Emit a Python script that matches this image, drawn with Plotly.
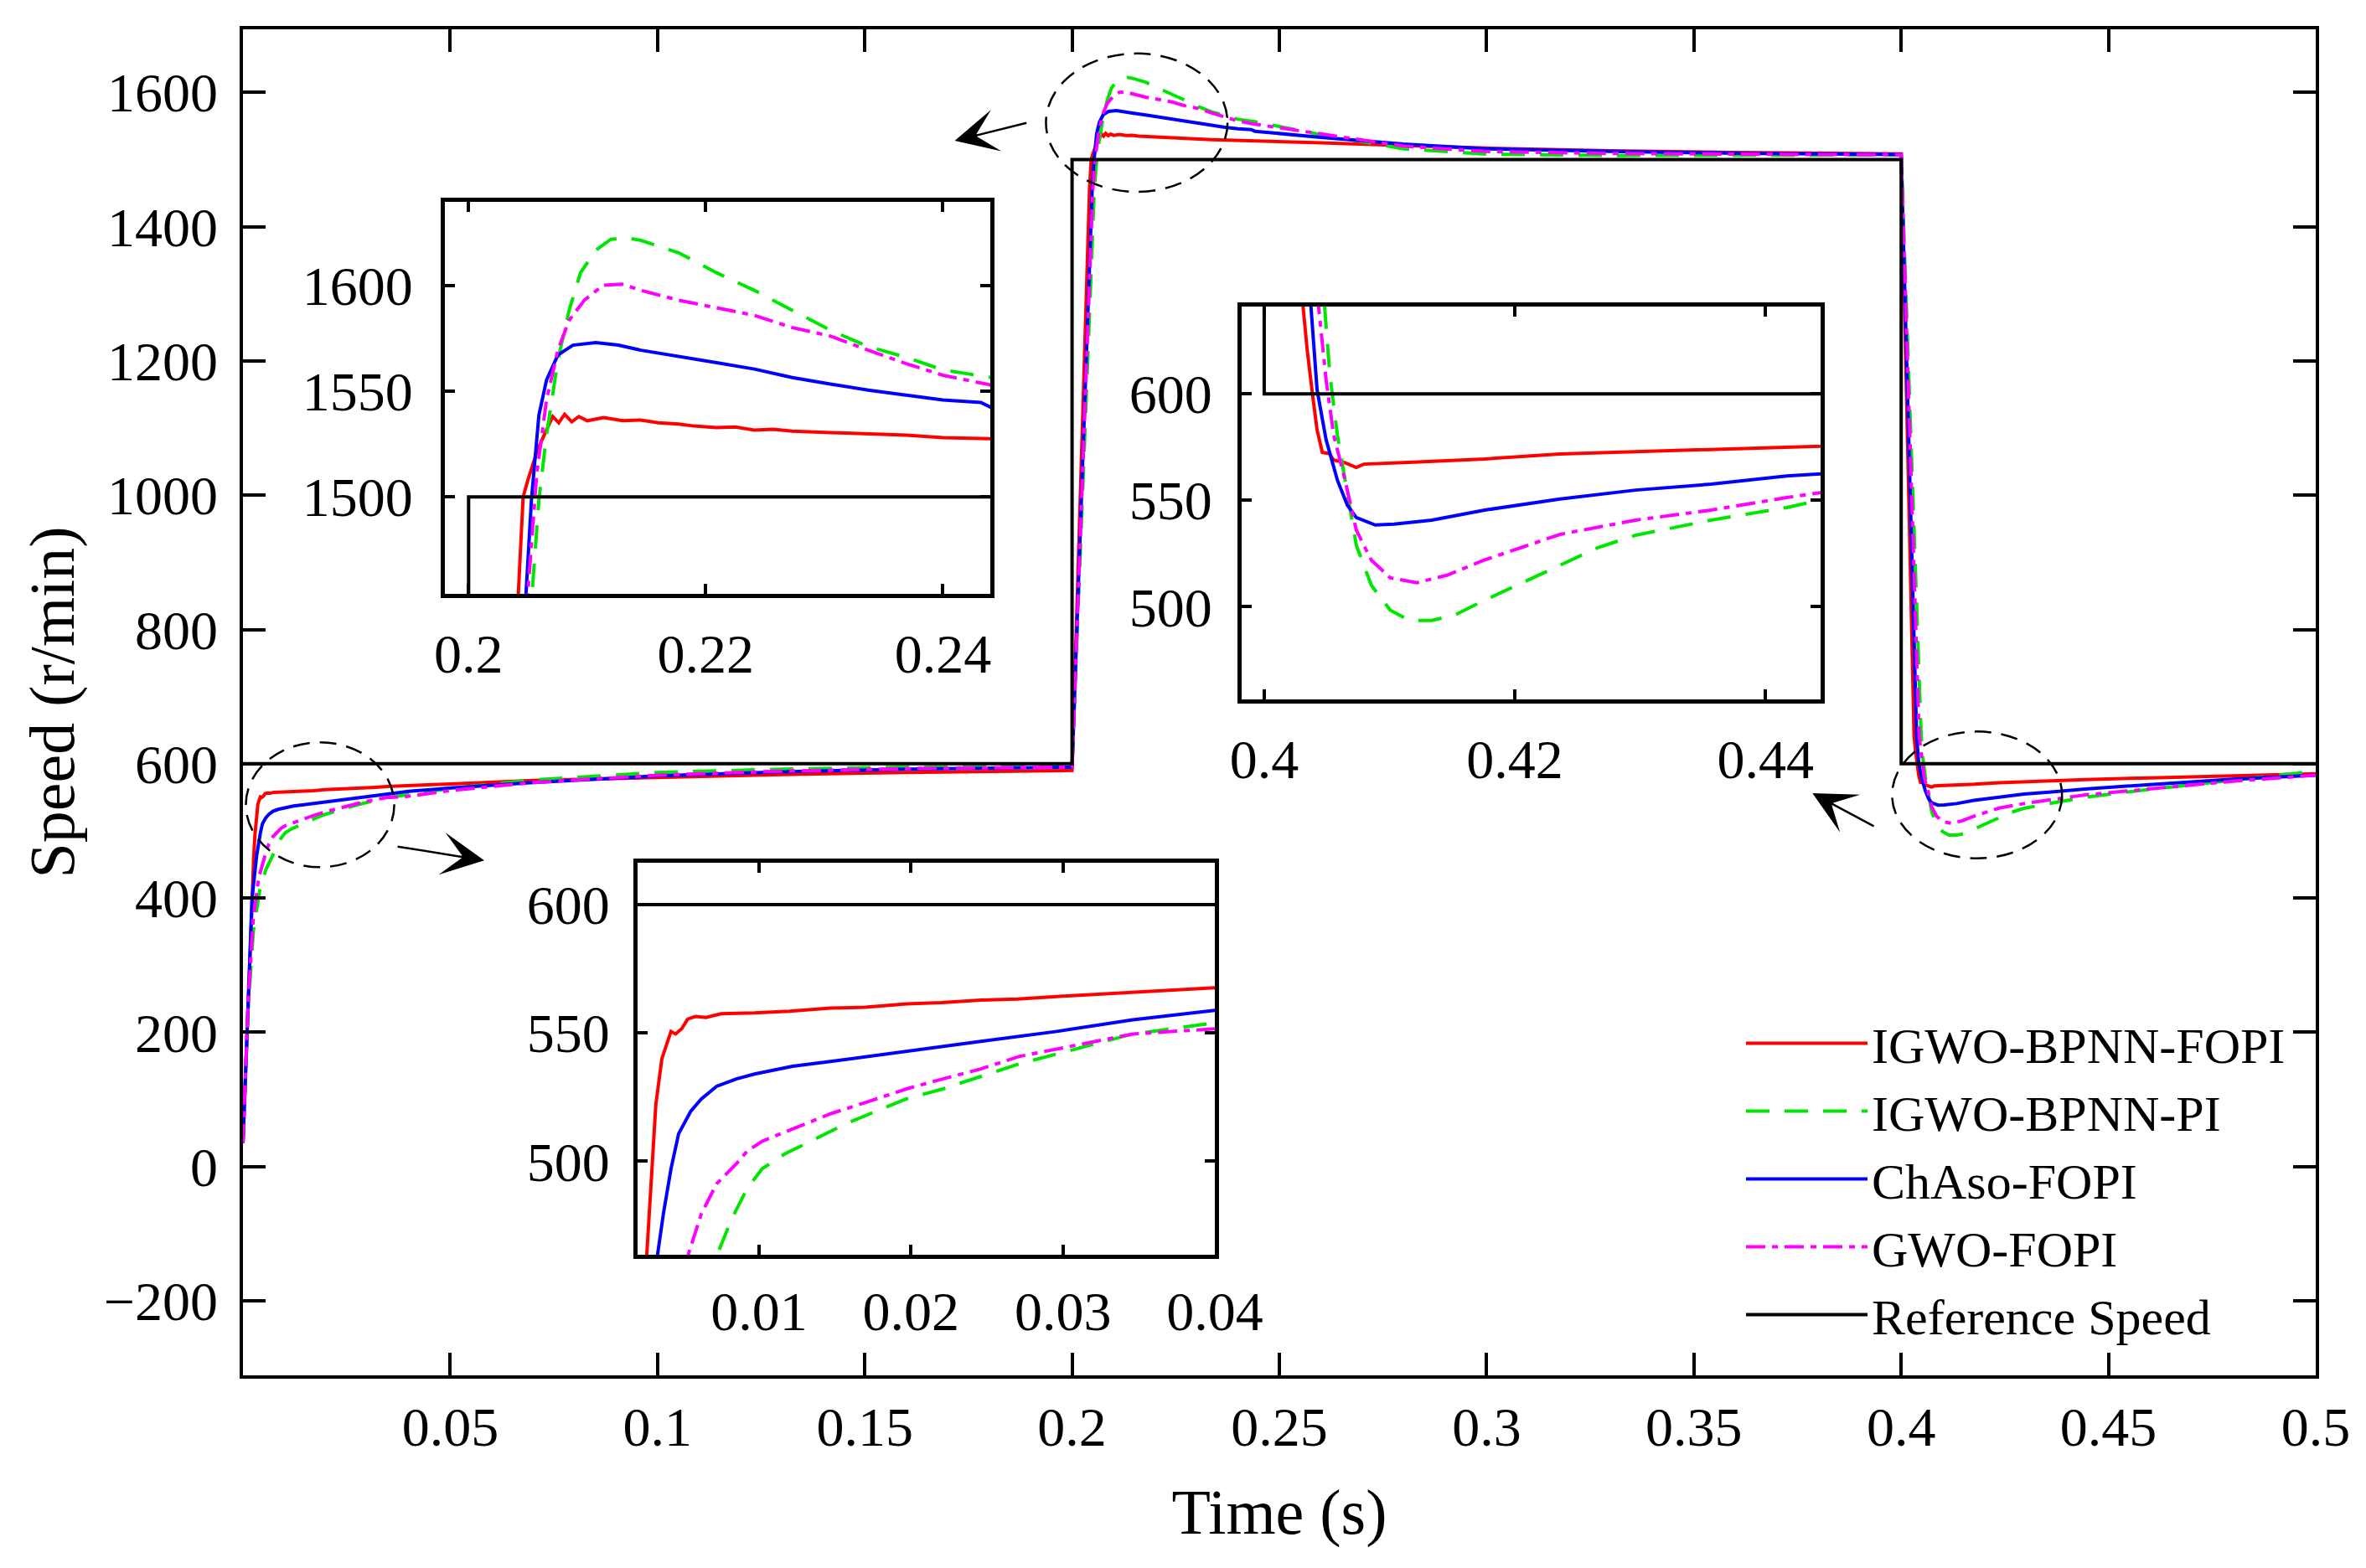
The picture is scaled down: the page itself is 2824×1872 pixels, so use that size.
import plotly.graph_objects as go

# ---------------- data ----------------
names = ["IGWO-BPNN-FOPI", "IGWO-BPNN-PI", "ChAso-FOPI", "GWO-FOPI", "Reference Speed"]
colors = ["#ff0000", "#00e600", "#0000ff", "#ff00ff", "#000000"]
dashes = ["solid", "28px,18px", "solid", "23px,8px,7px,8px", "solid"]

t_ref = [0.0, 0.2, 0.2, 0.4, 0.4, 0.5]
v_ref = [600, 600, 1500, 1500, 600, 600]

t_red = [0.0, 0.0013, 0.0026, 0.0029, 0.0032, 0.0036, 0.0042, 0.0045, 0.0049, 0.0053, 0.0058,
         0.0065, 0.0075, 0.0097, 0.012, 0.0147, 0.017, 0.0197, 0.022, 0.0246, 0.027, 0.0296,
         0.032, 0.0346, 0.037, 0.04, 0.05, 0.07, 0.1, 0.13, 0.16, 0.2,
         0.2042, 0.2046, 0.205, 0.2058, 0.2066, 0.2071, 0.2076, 0.2081, 0.2087, 0.2093, 0.21,
         0.2114, 0.213, 0.2145, 0.216, 0.2177, 0.219, 0.2209, 0.2225, 0.2241, 0.2257, 0.2273,
         0.2305, 0.2337, 0.2369, 0.24, 0.2441, 0.26, 0.28, 0.3, 0.33, 0.36, 0.4,
         0.4031, 0.40343, 0.40386, 0.40422, 0.40464, 0.4052, 0.40554, 0.4064, 0.40735, 0.40795,
         0.41157, 0.41759, 0.42361, 0.42964, 0.43566, 0.44169, 0.4444, 0.46, 0.48, 0.5]
v_red = [35, 260, 463, 495, 522, 540, 550.6, 549.6, 551.6, 555.4, 556.4,
         556, 557.5, 557.8, 558.5, 559.7, 560, 561.3, 561.8, 562.8, 563.2, 564.2,
         565, 566.1, 566.8, 567.6, 570, 575, 580, 584, 587, 590,
         1455, 1500, 1508, 1522, 1532, 1538, 1535, 1539, 1535.5, 1538, 1536,
         1537.5, 1536, 1536.3, 1535, 1534.4, 1533.5, 1532.8, 1533, 1531.6, 1532, 1531.1,
         1530.4, 1529.7, 1529.2, 1528, 1527.4, 1525, 1521, 1517, 1513, 1510.5, 1508.5,
         641, 620.7, 599.5, 583, 572.5, 572, 568.9, 567.8, 565.4, 567,
         567.8, 569.4, 571.8, 573.2, 574.8, 576, 576.5, 579, 582, 585]

t_green = [0.0, 0.0012, 0.0025, 0.004, 0.0055, 0.0072, 0.0082, 0.0092, 0.0102, 0.0117, 0.0137,
           0.0157, 0.0177, 0.0197, 0.0221, 0.0246, 0.0271, 0.0296, 0.0321, 0.0346, 0.04,
           0.05, 0.07, 0.1, 0.13, 0.16, 0.2,
           0.20536, 0.20593, 0.20657, 0.20753, 0.20848, 0.20944, 0.21072, 0.212, 0.21327, 0.21454,
           0.21773, 0.22092, 0.2241, 0.2273, 0.2305, 0.2337, 0.2369, 0.24, 0.2441,
           0.26, 0.28, 0.3, 0.33, 0.36, 0.4,
           0.40482, 0.40524, 0.40584, 0.40645, 0.40735, 0.40855, 0.41006, 0.41157, 0.41337,
           0.41518, 0.41759, 0.4206, 0.42361, 0.42663, 0.42964, 0.43566, 0.44169, 0.4444,
           0.46, 0.48, 0.5]
v_green = [35, 230, 350, 410, 442, 463, 477.6, 489.3, 497.1, 502.9, 508.7,
           514.6, 519.5, 524.3, 528.2, 533.1, 537.9, 541.8, 545.7, 549.6, 553.9,
           563, 576, 587, 592, 595, 597,
           1455, 1498.6, 1529.2, 1564.6, 1588.2, 1605.9, 1616.5, 1621.7, 1622.4, 1621.2,
           1615.3, 1605.9, 1597.6, 1588.2, 1578.8, 1571, 1566, 1560, 1556.4,
           1537, 1516, 1508, 1506, 1506.5, 1507,
           641, 608.9, 580.7, 559.5, 528.9, 510.1, 498.4, 493.6, 493.6,
           496, 503.1, 511.3, 519.5, 527.8, 533.6, 540.7, 546.6, 550.1,
           562, 576, 589]

t_blue = [0.0, 0.0012, 0.0022, 0.0033, 0.0037, 0.0042, 0.0047, 0.0055, 0.0062, 0.0072, 0.0085,
          0.0097, 0.0122, 0.0147, 0.0172, 0.0197, 0.0246, 0.0296, 0.0346, 0.04,
          0.05, 0.07, 0.1, 0.13, 0.16, 0.2,
          0.20485, 0.2053, 0.20593, 0.20657, 0.20753, 0.2088, 0.21072, 0.21263, 0.21454,
          0.21773, 0.22092, 0.2241, 0.2273, 0.2305, 0.2337, 0.2369, 0.24, 0.2432, 0.2441,
          0.26, 0.28, 0.3, 0.33, 0.36, 0.4,
          0.40373, 0.40422, 0.40494, 0.40584, 0.40663, 0.40735, 0.40886, 0.41036, 0.41337,
          0.41759, 0.42361, 0.42964, 0.43566, 0.44169, 0.4444, 0.46, 0.48, 0.5]
v_blue = [35, 250, 400, 463, 479.6, 497.1, 510.7, 519.5, 524.3, 529.2, 532.1,
          534, 537, 538.9, 540.8, 542.8, 546.7, 550.6, 555.1, 558.8,
          564, 572, 582, 588, 592, 595,
          1455, 1498.6, 1538.7, 1555.2, 1567, 1571.7, 1572.9, 1571.7, 1569.3,
          1566.5, 1563.4, 1560.4, 1556.4, 1553.3, 1550.5, 1548.1, 1545.8, 1544.6, 1542.2,
          1533, 1523, 1516, 1512, 1509.5, 1507.5,
          641, 601.9, 578.4, 559.5, 547.8, 541.9, 538.4, 538.8, 540.7,
          545.4, 550.6, 554.8, 557.6, 561.4, 562.4, 569, 577, 583]

t_mag = [0.0, 0.0012, 0.0025, 0.0038, 0.0053, 0.0062, 0.0072, 0.0085, 0.0092, 0.0102, 0.0122,
         0.0147, 0.0172, 0.0197, 0.0221, 0.0246, 0.0271, 0.0296, 0.0321, 0.0346, 0.04,
         0.05, 0.07, 0.1, 0.13, 0.16, 0.2,
         0.205, 0.20574, 0.20657, 0.20753, 0.20848, 0.20976, 0.21135, 0.21295, 0.21454,
         0.21773, 0.22092, 0.2241, 0.2273, 0.2305, 0.2337, 0.2369, 0.24, 0.2441,
         0.26, 0.28, 0.3, 0.33, 0.36, 0.4,
         0.40434, 0.40494, 0.40554, 0.40645, 0.40735, 0.40855, 0.41006, 0.41217, 0.41458,
         0.41759, 0.4206, 0.42361, 0.42964, 0.43566, 0.44169, 0.4444, 0.46, 0.48, 0.5]
v_mag = [35, 240, 370, 430, 463, 479.6, 491.2, 499, 503.9, 507.8, 512.6,
         518.5, 523.3, 528.2, 532.1, 536, 540.8, 543.8, 546.7, 549.6, 551.6,
         560, 572, 583, 589, 593, 595,
         1455, 1510.4, 1545.8, 1569.3, 1583.5, 1592.9, 1600, 1600.5, 1597.6,
         1592.9, 1589.4, 1585.8, 1580, 1576, 1569.3, 1563, 1557.5, 1552.8,
         1538, 1520, 1512, 1509, 1508, 1507,
         641, 606.6, 580.7, 559.5, 536, 521.9, 513.6, 511.3, 514.8,
         522, 528, 534, 540.7, 545.4, 551.3, 553.6, 563, 574, 583]

series_t = [t_red, t_green, t_blue, t_mag, t_ref]
series_v = [v_red, v_green, v_blue, v_mag, v_ref]

# axis ticks
main_xticks = [0.05, 0.1, 0.15, 0.2, 0.25, 0.3, 0.35, 0.4, 0.45, 0.5]
main_xtext = ["0.05", "0.1", "0.15", "0.2", "0.25", "0.3", "0.35", "0.4", "0.45", "0.5"]
main_yticks = [-200, 0, 200, 400, 600, 800, 1000, 1200, 1400, 1600]
main_ytext = ["\u2212200", "0", "200", "400", "600", "800", "1000", "1200", "1400", "1600"]
in1_xticks, in1_xtext = [0.2, 0.22, 0.24], ["0.2", "0.22", "0.24"]
in1_yticks, in1_ytext = [1500, 1550, 1600], ["1500", "1550", "1600"]
in2_xticks, in2_xtext = [0.4, 0.42, 0.44], ["0.4", "0.42", "0.44"]
in2_yticks, in2_ytext = [500, 550, 600], ["500", "550", "600"]
in3_xticks, in3_xtext = [0.01, 0.02, 0.03, 0.04], ["0.01", "0.02", "0.03", "0.04"]
in3_yticks, in3_ytext = [500, 550, 600], ["500", "550", "600"]

# ---------------- figure ----------------
OFF = 8                      # default page body margin
W, H = 2824 - 2 * OFF, 1872 - 2 * OFF
FONT = "Liberation Serif"
fig = go.Figure()

axes_sets = [("x", "y"), ("x2", "y2"), ("x3", "y3"), ("x4", "y4")]
for k, (xa, ya) in enumerate(axes_sets):
    for i in range(5):
        fig.add_trace(go.Scatter(
            x=series_t[i], y=series_v[i], mode="lines", name=names[i],
            line=dict(color=colors[i], width=4, dash=dashes[i]),
            xaxis=xa, yaxis=ya, showlegend=(k == 0), hoverinfo="skip"))


def px_dom_x(a, b):
    return [(a - OFF) / W, (b - OFF) / W]


def px_dom_y(top, bottom):
    return [1 - (bottom - OFF) / H, 1 - (top - OFF) / H]


tickfont = dict(family=FONT, size=66, color="black")
titlefont = dict(family=FONT, size=76, color="black")
main_ax = dict(showline=True, linecolor="black", linewidth=3.5, mirror="ticks",
               ticks="inside", ticklen=27, tickwidth=3.5, tickcolor="black",
               showgrid=False, zeroline=False, tickfont=tickfont, automargin=False)
inset_ax = dict(showline=True, linecolor="black", linewidth=5, mirror="ticks",
                ticks="inside", ticklen=12, tickwidth=4, tickcolor="black",
                showgrid=False, zeroline=False, tickfont=tickfont, automargin=False)

fig.update_layout(
    width=W, height=H, margin=dict(l=0, r=0, t=0, b=0),
    paper_bgcolor="white", plot_bgcolor="white",
    xaxis=dict(main_ax, domain=px_dom_x(290, 2764), range=[0, 0.5], anchor="y",
               tickmode="array", tickvals=main_xticks, ticktext=main_xtext,
               ticklabelstandoff=1,
               title=dict(text="Time (s)", font=titlefont, standoff=40)),
    yaxis=dict(main_ax, domain=px_dom_y(35, 1642), range=[-311, 1694], anchor="x",
               tickmode="array", tickvals=main_yticks, ticktext=main_ytext,
               ticklabelstandoff=13,
               title=dict(text="Speed (r/min)", font=titlefont, standoff=11)),
    xaxis2=dict(inset_ax, domain=px_dom_x(531, 1182), range=[0.198, 0.244], anchor="y2",
                tickmode="array", tickvals=in1_xticks, ticktext=in1_xtext, ticklabelstandoff=10),
    yaxis2=dict(inset_ax, domain=px_dom_y(241, 709), range=[1454.2, 1639.4], anchor="x2",
                tickmode="array", tickvals=in1_yticks, ticktext=in1_ytext, ticklabelstandoff=20),
    xaxis3=dict(inset_ax, domain=px_dom_x(1482, 2173), range=[0.3982, 0.4444], anchor="y3",
                tickmode="array", tickvals=in2_xticks, ticktext=in2_xtext, ticklabelstandoff=10),
    yaxis3=dict(inset_ax, domain=px_dom_y(366, 835), range=[456.5, 641], anchor="x3",
                tickmode="array", tickvals=in2_yticks, ticktext=in2_ytext, ticklabelstandoff=17),
    xaxis4=dict(inset_ax, domain=px_dom_x(761, 1450), range=[0.002, 0.04], anchor="y4",
                tickmode="array", tickvals=in3_xticks, ticktext=in3_xtext, ticklabelstandoff=6),
    yaxis4=dict(inset_ax, domain=px_dom_y(1030, 1498), range=[463.6, 616.3], anchor="x4",
                tickmode="array", tickvals=in3_yticks, ticktext=in3_ytext, ticklabelstandoff=15),
    legend=dict(x=2071 / W, y=1 - 1192 / H, xanchor="left", yanchor="top",
                font=dict(family=FONT, size=60, color="black"), bgcolor="rgba(0,0,0,0)",
                borderwidth=0, itemwidth=145, tracegroupgap=0),
    showlegend=True,
)

# dashed ellipses marking the zoomed regions
ellipses = [(0.0007, 0.0365, 446, 632), (0.1937, 0.2375, 1452, 1658), (0.3978, 0.4388, 459, 648)]
for x0, x1, y0, y1 in ellipses:
    fig.add_shape(type="circle", xref="x", yref="y", x0=x0, x1=x1, y0=y0, y1=y1,
                  line=dict(color="black", width=2.5, dash="20px,12px"))

# arrows pointing to the insets (tip, tail)
arrows = [((0.0582, 456), (0.0370, 477)), ((0.1717, 1528), (0.1893, 1555)), ((0.3786, 556), (0.3937, 506))]
for (tx, ty), (sx, sy) in arrows:
    fig.add_annotation(x=tx, y=ty, ax=sx, ay=sy, xref="x", yref="y", axref="x", ayref="y",
                       text="", showarrow=True, arrowhead=3, arrowsize=3.4, arrowwidth=2.5,
                       arrowcolor="black", standoff=0)

fig.write_html("out.html")
